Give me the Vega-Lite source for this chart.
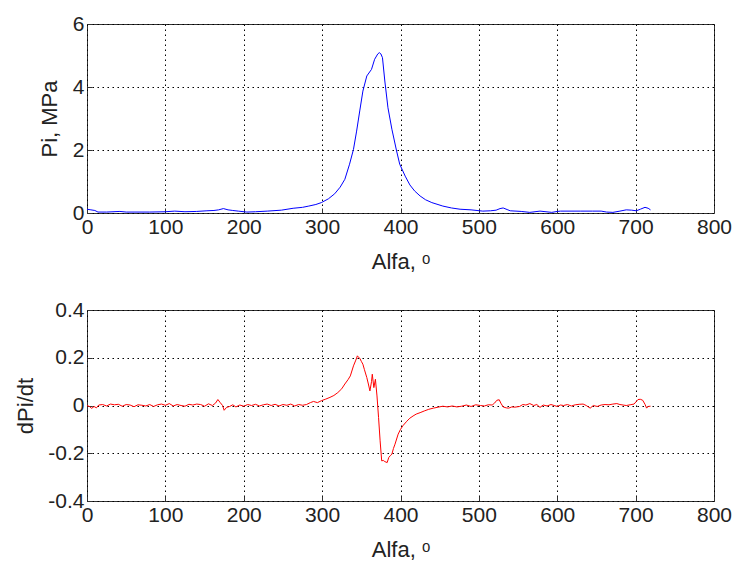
{
  "$schema": "https://vega.github.io/schema/vega-lite/v6.json",
  "padding": {"left": 14, "top": 12, "right": 5, "bottom": 5},
  "background": "white",
  "spacing": 97,
  "bounds": "flush",
  "config": {
    "view": {"stroke": "#333333", "strokeWidth": 1},
    "font": "Liberation Sans",
    "axis": {
      "grid": true,
      "gridColor": "#000000",
      "gridDash": [1.5, 3.5],
      "gridWidth": 1,
      "gridOpacity": 1,
      "domain": false,
      "ticks": true,
      "tickSize": -5,
      "tickColor": "#333333",
      "labelFont": "Liberation Sans",
      "labelFontSize": 21,
      "labelColor": "#222222",
      "labelFlush": false,
      "labelOverlap": false,
      "labelPadding": 8,
      "titleFont": "Liberation Sans",
      "titleFontSize": 22,
      "titleFontWeight": "normal",
      "titleColor": "#222222"
    }
  },
  "vconcat": [
    {
      "width": 627,
      "height": 189,
      "data": {"values": [
        {"a": 0, "p": 0.12}, {"a": 5, "p": 0.1}, {"a": 10, "p": 0.08}, {"a": 14, "p": 0.03}, {"a": 25, "p": 0.03},
        {"a": 42, "p": 0.05}, {"a": 50, "p": 0.03}, {"a": 60, "p": 0.03}, {"a": 80, "p": 0.03}, {"a": 100, "p": 0.04},
        {"a": 112, "p": 0.06}, {"a": 125, "p": 0.04}, {"a": 140, "p": 0.05}, {"a": 153, "p": 0.07}, {"a": 162, "p": 0.08},
        {"a": 168, "p": 0.1}, {"a": 174, "p": 0.14}, {"a": 180, "p": 0.1}, {"a": 186, "p": 0.08}, {"a": 193, "p": 0.06},
        {"a": 204, "p": 0.03}, {"a": 215, "p": 0.04}, {"a": 230, "p": 0.06}, {"a": 248, "p": 0.09}, {"a": 263, "p": 0.15},
        {"a": 275, "p": 0.18}, {"a": 283, "p": 0.22}, {"a": 292, "p": 0.27}, {"a": 299, "p": 0.33}, {"a": 308, "p": 0.45},
        {"a": 316, "p": 0.61}, {"a": 323, "p": 0.82}, {"a": 329, "p": 1.07}, {"a": 335, "p": 1.55}, {"a": 340, "p": 2.02},
        {"a": 344, "p": 2.6}, {"a": 348, "p": 3.24}, {"a": 352, "p": 3.87}, {"a": 357, "p": 4.35}, {"a": 363, "p": 4.56},
        {"a": 367, "p": 4.88}, {"a": 371, "p": 5.05}, {"a": 373, "p": 5.09}, {"a": 375, "p": 5.05}, {"a": 377, "p": 4.93},
        {"a": 380, "p": 4.19}, {"a": 384, "p": 3.34}, {"a": 389, "p": 2.66}, {"a": 395, "p": 1.97}, {"a": 399, "p": 1.55},
        {"a": 406, "p": 1.17}, {"a": 412, "p": 0.89}, {"a": 418, "p": 0.7}, {"a": 425, "p": 0.54}, {"a": 432, "p": 0.42},
        {"a": 440, "p": 0.33}, {"a": 454, "p": 0.22}, {"a": 465, "p": 0.16}, {"a": 476, "p": 0.12}, {"a": 490, "p": 0.1},
        {"a": 505, "p": 0.06}, {"a": 515, "p": 0.07}, {"a": 522, "p": 0.09}, {"a": 527, "p": 0.14}, {"a": 531, "p": 0.16},
        {"a": 536, "p": 0.11}, {"a": 540, "p": 0.07}, {"a": 554, "p": 0.05}, {"a": 565, "p": 0.02}, {"a": 578, "p": 0.06},
        {"a": 593, "p": 0.02}, {"a": 600, "p": 0.05}, {"a": 604, "p": 0.06}, {"a": 615, "p": 0.06}, {"a": 630, "p": 0.06},
        {"a": 645, "p": 0.06}, {"a": 656, "p": 0.06}, {"a": 663, "p": 0.03}, {"a": 671, "p": 0.02}, {"a": 680, "p": 0.06},
        {"a": 688, "p": 0.1}, {"a": 695, "p": 0.09}, {"a": 701, "p": 0.07}, {"a": 706, "p": 0.12}, {"a": 712, "p": 0.18},
        {"a": 716, "p": 0.15}, {"a": 719, "p": 0.1}
      ]},
      "mark": {"type": "line", "color": "#0000ff", "strokeWidth": 1, "clip": true},
      "encoding": {
        "x": {"field": "a", "type": "quantitative",
              "scale": {"domain": [0, 800], "nice": false, "zero": false},
              "axis": {"values": [0, 100, 200, 300, 400, 500, 600, 700, 800], "title": "Alfa, ᵒ", "titlePadding": 14}},
        "y": {"field": "p", "type": "quantitative",
              "scale": {"domain": [0, 6], "nice": false},
              "axis": {"values": [0, 2, 4, 6], "title": "Pi, MPa", "titlePadding": 11}}
      }
    },
    {
      "width": 627,
      "height": 191,
      "data": {"values": [
        {"a": 0, "d": 0.0}, {"a": 3, "d": -0.004}, {"a": 6, "d": -0.012}, {"a": 9, "d": -0.004}, {"a": 12, "d": -0.01},
        {"a": 15, "d": 0.002}, {"a": 20, "d": 0.004}, {"a": 25, "d": -0.002}, {"a": 30, "d": 0.006}, {"a": 35, "d": 0.003},
        {"a": 40, "d": 0.005}, {"a": 45, "d": -0.003}, {"a": 50, "d": 0.004}, {"a": 55, "d": 0.002}, {"a": 60, "d": -0.005},
        {"a": 65, "d": 0.003}, {"a": 70, "d": 0.001}, {"a": 75, "d": -0.002}, {"a": 80, "d": 0.004}, {"a": 85, "d": -0.004},
        {"a": 90, "d": 0.003}, {"a": 95, "d": 0.006}, {"a": 100, "d": 0.001}, {"a": 105, "d": 0.008}, {"a": 110, "d": -0.002},
        {"a": 115, "d": 0.004}, {"a": 120, "d": 0.0}, {"a": 125, "d": -0.003}, {"a": 130, "d": 0.005}, {"a": 135, "d": 0.002},
        {"a": 140, "d": 0.006}, {"a": 145, "d": 0.004}, {"a": 150, "d": -0.003}, {"a": 155, "d": 0.007}, {"a": 160, "d": 0.0},
        {"a": 164, "d": 0.01}, {"a": 167, "d": 0.025}, {"a": 170, "d": 0.012}, {"a": 173, "d": 0.0}, {"a": 175, "d": -0.02},
        {"a": 178, "d": -0.008}, {"a": 182, "d": -0.004}, {"a": 186, "d": 0.003}, {"a": 190, "d": -0.006}, {"a": 195, "d": 0.002},
        {"a": 200, "d": -0.003}, {"a": 205, "d": 0.004}, {"a": 210, "d": 0.0}, {"a": 215, "d": 0.005}, {"a": 220, "d": -0.002},
        {"a": 225, "d": 0.003}, {"a": 230, "d": 0.006}, {"a": 235, "d": 0.0}, {"a": 240, "d": 0.005}, {"a": 245, "d": -0.002},
        {"a": 250, "d": 0.004}, {"a": 255, "d": 0.001}, {"a": 260, "d": 0.006}, {"a": 265, "d": -0.002}, {"a": 270, "d": 0.004},
        {"a": 275, "d": 0.001}, {"a": 280, "d": 0.004}, {"a": 285, "d": 0.012}, {"a": 289, "d": 0.017}, {"a": 294, "d": 0.012},
        {"a": 299, "d": 0.02}, {"a": 304, "d": 0.026}, {"a": 310, "d": 0.034}, {"a": 315, "d": 0.042}, {"a": 320, "d": 0.054},
        {"a": 325, "d": 0.07}, {"a": 329, "d": 0.09}, {"a": 333, "d": 0.108}, {"a": 336, "d": 0.124}, {"a": 340, "d": 0.166},
        {"a": 343, "d": 0.19}, {"a": 345, "d": 0.208}, {"a": 347, "d": 0.2}, {"a": 348, "d": 0.198}, {"a": 350, "d": 0.185},
        {"a": 352, "d": 0.173}, {"a": 354, "d": 0.15}, {"a": 357, "d": 0.117}, {"a": 359, "d": 0.09}, {"a": 361, "d": 0.061},
        {"a": 363, "d": 0.1}, {"a": 364, "d": 0.131}, {"a": 366, "d": 0.075}, {"a": 368, "d": 0.11}, {"a": 370, "d": 0.04},
        {"a": 372, "d": -0.05}, {"a": 374, "d": -0.148}, {"a": 376, "d": -0.232}, {"a": 378, "d": -0.23}, {"a": 380, "d": -0.235},
        {"a": 383, "d": -0.239}, {"a": 385, "d": -0.218}, {"a": 387, "d": -0.21}, {"a": 389, "d": -0.204}, {"a": 391, "d": -0.18},
        {"a": 393, "d": -0.162}, {"a": 397, "d": -0.12}, {"a": 400, "d": -0.1}, {"a": 403, "d": -0.085}, {"a": 408, "d": -0.066},
        {"a": 412, "d": -0.053}, {"a": 416, "d": -0.044}, {"a": 420, "d": -0.036}, {"a": 425, "d": -0.03}, {"a": 431, "d": -0.022},
        {"a": 436, "d": -0.016}, {"a": 442, "d": -0.011}, {"a": 448, "d": -0.007}, {"a": 454, "d": -0.003}, {"a": 460, "d": -0.006},
        {"a": 466, "d": -0.002}, {"a": 472, "d": -0.006}, {"a": 478, "d": -0.003}, {"a": 484, "d": 0.002}, {"a": 490, "d": -0.004},
        {"a": 496, "d": 0.003}, {"a": 502, "d": 0.0}, {"a": 507, "d": -0.002}, {"a": 512, "d": 0.003}, {"a": 517, "d": 0.002},
        {"a": 520, "d": 0.01}, {"a": 523, "d": 0.022}, {"a": 526, "d": 0.024}, {"a": 528, "d": 0.01}, {"a": 531, "d": -0.006},
        {"a": 535, "d": -0.01}, {"a": 538, "d": -0.011}, {"a": 542, "d": -0.006}, {"a": 546, "d": -0.007}, {"a": 552, "d": -0.004},
        {"a": 556, "d": 0.004}, {"a": 560, "d": 0.002}, {"a": 565, "d": 0.008}, {"a": 570, "d": 0.0}, {"a": 574, "d": 0.004},
        {"a": 578, "d": -0.008}, {"a": 582, "d": 0.002}, {"a": 587, "d": -0.002}, {"a": 592, "d": 0.004}, {"a": 596, "d": 0.0},
        {"a": 600, "d": -0.004}, {"a": 604, "d": 0.002}, {"a": 608, "d": 0.0}, {"a": 613, "d": 0.004}, {"a": 618, "d": -0.002},
        {"a": 623, "d": 0.003}, {"a": 628, "d": 0.005}, {"a": 633, "d": 0.006}, {"a": 637, "d": 0.0}, {"a": 642, "d": -0.011},
        {"a": 646, "d": 0.0}, {"a": 651, "d": -0.004}, {"a": 656, "d": 0.002}, {"a": 661, "d": 0.004}, {"a": 666, "d": 0.003},
        {"a": 671, "d": 0.006}, {"a": 676, "d": 0.008}, {"a": 680, "d": 0.004}, {"a": 684, "d": 0.002}, {"a": 688, "d": 0.0},
        {"a": 693, "d": 0.003}, {"a": 698, "d": 0.006}, {"a": 703, "d": 0.025}, {"a": 706, "d": 0.026}, {"a": 709, "d": 0.022},
        {"a": 712, "d": 0.005}, {"a": 714, "d": -0.011}, {"a": 716, "d": -0.004}, {"a": 719, "d": -0.003}
      ]},
      "mark": {"type": "line", "color": "#ff0000", "strokeWidth": 1, "clip": true},
      "encoding": {
        "x": {"field": "a", "type": "quantitative",
              "scale": {"domain": [0, 800], "nice": false, "zero": false},
              "axis": {"values": [0, 100, 200, 300, 400, 500, 600, 700, 800], "title": "Alfa, ᵒ", "titlePadding": 14}},
        "y": {"field": "d", "type": "quantitative",
              "scale": {"domain": [-0.4, 0.4], "nice": false},
              "axis": {"values": [-0.4, -0.2, 0, 0.2, 0.4], "title": "dPi/dt", "titlePadding": 10,
                       "labelExpr": "datum.value == 0 ? '0' : toString(datum.value)"}}
      }
    }
  ]
}
